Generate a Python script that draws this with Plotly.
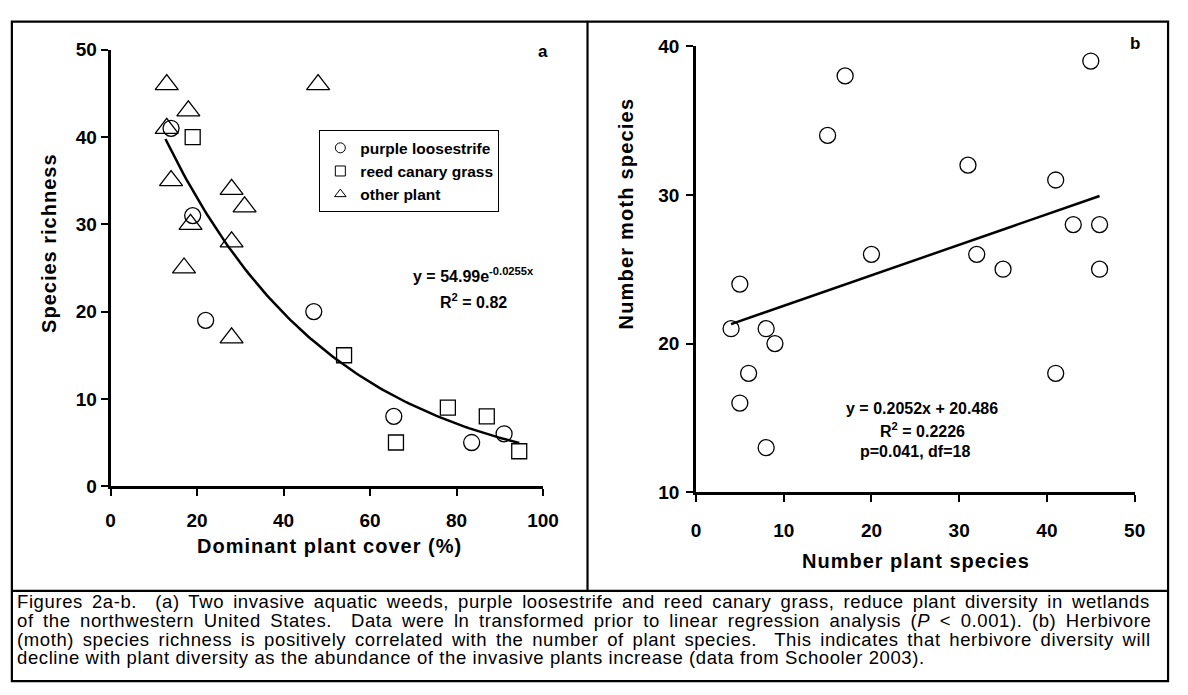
import re
import numpy as np
import plotly.graph_objects as go

W, H = 1188, 695

# ---------------- Panel a data ----------------
pl_cover = [14, 19, 22, 47, 65.5, 83.5, 91]          # purple loosestrife
pl_rich = [41, 31, 19, 20, 8, 5, 6]
rc_cover = [19, 54, 66, 78, 87, 94.5]                # reed canary grass
rc_rich = [40, 15, 5, 9, 8, 4]
op_cover = [13, 18, 13, 14, 18.5, 28, 31, 28, 17, 28, 48]   # other plant
op_rich = [46, 43, 41, 35, 30, 34, 32, 28, 25, 17, 46]
fit_a_coef, fit_a_rate = 54.99, -0.0255
fit_a_xmin, fit_a_xmax = 12.7, 94.5

a_xticks = [0, 20, 40, 60, 80, 100]
a_yticks = [0, 10, 20, 30, 40, 50]

# ---------------- Panel b data ----------------
plant_n = [17, 15, 20, 45, 31, 41, 43, 46, 32, 35, 46, 41, 5, 4, 8, 9, 6, 5, 8]
moth_n = [38, 34, 26, 39, 32, 31, 28, 28, 26, 25, 25, 18, 24, 21, 21, 20, 18, 16, 13]
fit_b_slope, fit_b_int = 0.2052, 20.486
fit_b_xmin, fit_b_xmax = 4, 46

b_xticks = [0, 10, 20, 30, 40, 50]
b_yticks = [10, 20, 30, 40]

caption_lines = [
    "Figures 2a-b.&nbsp; (a) Two invasive aquatic weeds, purple loosestrife and reed canary grass, reduce plant diversity in wetlands",
    "of the northwestern United States.&nbsp; Data were ln transformed prior to linear regression analysis (<i>P</i> &lt; 0.001). (b) Herbivore",
    "(moth) species richness is positively correlated with the number of plant species.&nbsp; This indicates that herbivore diversity will",
    "decline with plant diversity as the abundance of the invasive plants increase (data from Schooler 2003).",
]

FONT = "Liberation Sans, Arial, Helvetica, sans-serif"

# Arial / Liberation Sans regular advance widths (1/1000 em) for text fitting
_AW = {' ': 278, '(': 333, ')': 333, ',': 278, '-': 333, '.': 278, '<': 584,
       'A': 667, 'B': 667, 'C': 722, 'D': 722, 'E': 667, 'F': 611, 'G': 778, 'H': 722,
       'I': 278, 'J': 500, 'K': 667, 'L': 556, 'M': 833, 'N': 722, 'O': 778, 'P': 667,
       'Q': 778, 'R': 722, 'S': 667, 'T': 611, 'U': 722, 'V': 667, 'W': 944, 'X': 667,
       'Y': 667, 'Z': 611, 'a': 556, 'b': 556, 'c': 500, 'd': 556, 'e': 556, 'f': 278,
       'g': 556, 'h': 556, 'i': 222, 'j': 222, 'k': 500, 'l': 222, 'm': 833, 'n': 556,
       'o': 556, 'p': 556, 'q': 556, 'r': 333, 's': 500, 't': 278, 'u': 556, 'v': 500,
       'w': 722, 'x': 500, 'y': 500, 'z': 500}
RENDER_FUDGE = 1.026   # rendered text a little wider than nominal metrics


def plain(s):
    s = re.sub(r"<[^>]+>", "", s)
    return s.replace("&nbsp;", " ").replace("&lt;", "<")


def text_width(s, size):
    return sum(_AW.get(c, 556) for c in plain(s)) * size / 1000.0 * RENDER_FUDGE


def px(p):
    return p / W


def py(p):
    return 1 - p / H


def spaced(s, ls):
    return '<span style="letter-spacing:%.2fpx">%s</span>' % (ls, s)


fig = go.Figure()

mk_line = dict(color="black", width=1.3)

# Panel a scatter
fig.add_trace(go.Scatter(x=pl_cover, y=pl_rich, mode="markers", xaxis="x", yaxis="y",
                         marker=dict(symbol="circle-open", size=16, color="black", line=mk_line),
                         showlegend=False))
fig.add_trace(go.Scatter(x=rc_cover, y=rc_rich, mode="markers", xaxis="x", yaxis="y",
                         marker=dict(symbol="square-open", size=15, color="black", line=mk_line),
                         showlegend=False))
fig.add_trace(go.Scatter(x=op_cover, y=op_rich, mode="markers", xaxis="x", yaxis="y",
                         marker=dict(symbol="triangle-up-open", size=20, color="black", line=mk_line),
                         showlegend=False))
xa = np.linspace(fit_a_xmin, fit_a_xmax, 120)
fig.add_trace(go.Scatter(x=xa, y=fit_a_coef * np.exp(fit_a_rate * xa), mode="lines",
                         xaxis="x", yaxis="y", line=dict(color="black", width=2.5),
                         showlegend=False, hoverinfo="skip"))

# Legend entries (small symbols)
for name, sym in [("purple loosestrife", "circle-open"),
                  ("reed canary grass", "square-open"),
                  ("other plant", "triangle-up-open")]:
    fig.add_trace(go.Scatter(x=[None], y=[None], mode="markers", xaxis="x", yaxis="y",
                             name=name,
                             marker=dict(symbol=sym, size=10, color="black",
                                         line=dict(color="black", width=1))))

# Panel b scatter
fig.add_trace(go.Scatter(x=plant_n, y=moth_n, mode="markers", xaxis="x2", yaxis="y2",
                         marker=dict(symbol="circle-open", size=16, color="black", line=mk_line),
                         showlegend=False))
xb = np.array([fit_b_xmin, fit_b_xmax])
fig.add_trace(go.Scatter(x=xb, y=fit_b_slope * xb + fit_b_int, mode="lines",
                         xaxis="x2", yaxis="y2", line=dict(color="black", width=2.5),
                         showlegend=False, hoverinfo="skip"))

tickfont = dict(family=FONT, size=19, color="black", weight="bold")
axis_common = dict(showline=True, linecolor="black", linewidth=2.5, ticks="outside",
                   ticklen=7, tickwidth=2, tickcolor="black", showgrid=False,
                   zeroline=False, tickfont=tickfont, fixedrange=True)

fig.update_layout(
    width=W, height=H,
    margin=dict(l=0, r=0, t=0, b=0),
    paper_bgcolor="white", plot_bgcolor="white",
    xaxis=dict(domain=[px(107.4), px(547.7)], range=[0, 100], tickvals=a_xticks,
               anchor="y", ticklabelstandoff=8, **axis_common),
    yaxis=dict(domain=[py(491), py(41)], range=[0, 50], tickvals=a_yticks,
               anchor="x", **axis_common),
    xaxis2=dict(domain=[px(703.4), px(1150)], range=[0, 50], tickvals=b_xticks,
                anchor="y2", ticklabelstandoff=12, **axis_common),
    yaxis2=dict(domain=[py(497.3), py(37.3)], range=[10, 40], tickvals=b_yticks,
                anchor="x2", ticklabelstandoff=3, **axis_common),
    legend=dict(x=px(320), y=py(124), xanchor="left", yanchor="top",
                bgcolor="white", bordercolor="black", borderwidth=1,
                font=dict(family=FONT, size=15.5, color="black", weight="bold"),
                itemwidth=30, tracegroupgap=0),
    showlegend=True,
)

ann = []


def add_text(text, x, y, size, bold=True, angle=0, xanchor="center"):
    ann.append(dict(text=text, x=px(x), y=py(y), xref="paper", yref="paper",
                    showarrow=False, textangle=angle, xanchor=xanchor, yanchor="middle",
                    font=dict(family=FONT, size=size, color="black",
                              weight="bold" if bold else "normal")))


# axis titles
add_text(spaced("Species richness", 1.0), 45, 241, 20, angle=-90)
add_text(spaced("Dominant plant cover (%)", 1.0), 330, 553, 20)
add_text(spaced("Number moth species", 1.2), 632, 210, 20, angle=-90)
add_text(spaced("Number plant species", 1.0), 927, 568, 20)
# panel labels
add_text("a", 548, 43, 17)
add_text("b", 1150, 35, 17)
# equations
add_text("y = 54.99e<sup>-0.0255x</sup>", 477, 273, 16)
add_text("R<sup>2</sup> = 0.82", 477, 300, 16)
add_text("y = 0.2052x + 20.486", 933, 411, 16)
add_text("R<sup>2</sup> = 0.2226", 934, 433, 16)
add_text("p=0.041, df=18", 926, 455, 16)

# caption: justified lines (all but the last stretched to the full width)
cap_size = 18.5
cap_ls = 0.6           # letter spacing (reference glyphs are wide)
cap_left, cap_right = 10, 1170
for i, line in enumerate(caption_lines):
    n_chars = len(plain(line))
    style = "letter-spacing:%.2fpx" % cap_ls
    if i < len(caption_lines) - 1:
        n_space = plain(line).count(" ")
        extra = (cap_right - cap_left) - text_width(line, cap_size) - n_chars * cap_ls
        ws = max(extra / n_space, 0)
        style += ";word-spacing:%.2fpx" % ws
    txt = '<span style="%s">%s</span>' % (style, line)
    add_text(txt, cap_left, 610 + 19.3 * i, cap_size, bold=False, xanchor="left")

fig.update_layout(annotations=ann)

# frame lines
lw = 2.2
left, right, top, bottom = 7, 1184, 12, 692
shapes = [
    dict(type="rect", xref="paper", yref="paper", x0=px(left), x1=px(right),
         y0=py(bottom), y1=py(top), line=dict(color="black", width=lw)),
    dict(type="line", xref="paper", yref="paper", x0=px(593), x1=px(593),
         y0=py(599), y1=py(top), line=dict(color="black", width=lw)),
    dict(type="line", xref="paper", yref="paper", x0=px(left), x1=px(right),
         y0=py(599), y1=py(599), line=dict(color="black", width=lw)),
]
fig.update_layout(shapes=shapes)

fig.write_html("out.html", config={"displayModeBar": False},
               post_script="document.body.style.margin='0';")
